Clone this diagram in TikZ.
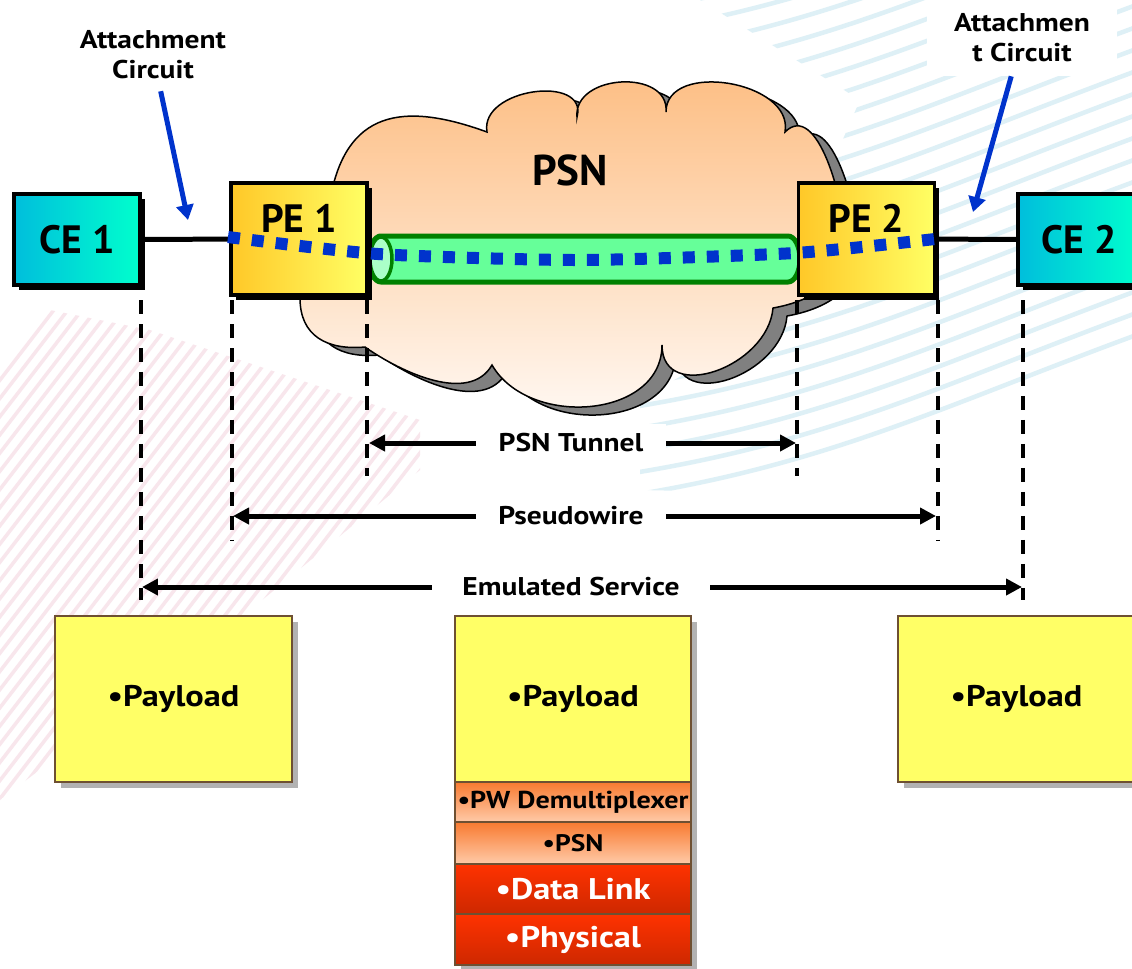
\documentclass[tikz,border=0pt]{standalone}
\usepackage{fontspec}
\setmainfont{PT Sans}
\newfontfamily\widefnt{PT Sans}[FakeStretch=1.15]
\usetikzlibrary{arrows.meta,shadows}
\definecolor{ceL}{RGB}{0,190,220}
\definecolor{ceR}{RGB}{0,255,205}
\definecolor{peL}{RGB}{255,200,40}
\definecolor{peR}{RGB}{255,255,100}
\definecolor{cloudT}{RGB}{253,188,128}
\definecolor{cloudB}{RGB}{255,250,246}
\definecolor{tubeF}{RGB}{102,255,153}
\definecolor{tubeC}{RGB}{170,255,200}
\definecolor{tubeD}{RGB}{0,128,0}
\definecolor{dotblue}{RGB}{0,51,204}
\definecolor{payY}{RGB}{255,255,102}
\definecolor{payB}{RGB}{110,80,50}
\definecolor{orT}{RGB}{248,122,48}
\definecolor{orB}{RGB}{255,202,168}
\definecolor{rdT}{RGB}{255,50,0}
\definecolor{rdB}{RGB}{205,40,0}
\definecolor{cyanstripe}{RGB}{222,240,246}
\definecolor{pinkstripe}{RGB}{248,230,236}
\newcommand{\psncloudpath}{(300,-298) -- (330,-200) to[out=80,in=160,looseness=1.35] (487,-132) to[out=100,in=75,looseness=1.25] (577,-117) to[out=95,in=85,looseness=1.25] (666,-112) to[out=90,in=80,looseness=1.1] (785,-132) to[out=45,in=90,looseness=0.9] (845,-245) to[out=-90,in=10,looseness=1] (773,-308) to[out=-95,in=-90,looseness=1.3] (662,-345) to[out=-90,in=-60,looseness=1.1] (492,-365) to[out=-120,in=-35,looseness=0.9] (365,-347) to[out=185,in=-90,looseness=1.2] (300,-298) -- cycle}
\begin{document}
\begin{tikzpicture}[x=0.02cm,y=0.02cm,
  bigfont/.style={font=\fontsize{22.5}{26}\selectfont\bfseries},
  cebox/.style={draw=black, line width=0.07cm, left color=ceL, right color=ceR,
    minimum width=2.52cm, minimum height=1.82cm, inner sep=0, bigfont,
    drop shadow={shadow xshift=0.1cm, shadow yshift=-0.1cm, fill=black, opacity=1}},
  pebox/.style={draw=black, line width=0.07cm, left color=peL, right color=peR,
    minimum width=2.72cm, minimum height=2.24cm, inner sep=0,
    drop shadow={shadow xshift=0.1cm, shadow yshift=-0.1cm, fill=black, opacity=1}},
  smallbold/.style={font=\widefnt\fontsize{14.6}{17}\selectfont\bfseries},
  bluearrow/.style={draw=dotblue, line width=0.1cm, -{Triangle[length=0.3cm,width=0.34cm]}},
  dotline/.style={draw=dotblue, line width=0.24cm, dash pattern=on 0.24cm off 0.24cm},
  link/.style={line width=0.1cm},
  vdash/.style={line width=0.065cm, dash pattern=on 0.28cm off 0.2cm},
  dimarrow/.style={line width=0.1cm, {Triangle[length=0.32cm,width=0.32cm]}-{Triangle[length=0.32cm,width=0.32cm]}},
  dimlabel/.style={smallbold, fill=white, inner xsep=0.5cm, inner ysep=0.2cm},
  payfont/.style={font=\widefnt\fontsize{17}{20}\selectfont\bfseries},
  paybox/.style={draw=payB, line width=0.04cm, fill=payY, minimum width=4.74cm, minimum height=3.32cm,
    payfont,
    drop shadow={shadow xshift=0.12cm, shadow yshift=-0.12cm, fill=black!30, opacity=1}},
  layer/.style={draw=payB, line width=0.03cm, minimum width=4.72cm, inner sep=0},
  orlayer/.style={layer, top color=orT, bottom color=orB},
  rdlayer/.style={layer, top color=rdT, bottom color=rdB, text=white, font=\widefnt\fontsize{17}{20}\selectfont\bfseries}
]
\useasboundingbox (0,0) rectangle (1132,-968);
\fill[white] (0,0) rectangle (1132,-968);

% background stripes
\begin{scope}
  \clip (700,0) -- (1132,0) -- (1132,-500) -- (640,-490) -- (640,-400) -- (760,-330) -- (860,-100) -- cycle;
  \foreach \i in {0,...,40} \draw[cyanstripe, line width=0.09cm] (600,{-500+22*\i}) to[out=8,in=200] (1150,{-330+22*\i});
\end{scope}
\begin{scope}
  \clip (0,-300) -- (150,-330) -- (420,-420) -- (420,-470) -- (250,-610) -- (0,-800) -- cycle;
  \foreach \i in {0,...,60} \draw[pinkstripe, line width=0.07cm] ({-400+14*\i},-900) -- ++(500,650);
\end{scope}
\begin{scope}
  \clip (0,-780) -- (170,-968) -- (0,-968) -- cycle;
  \foreach \i in {0,...,16} \draw[pinkstripe, line width=0.07cm] (-100,-1100) circle[radius={3+0.24*\i}];
\end{scope}

% cloud
\begin{scope}[shift={(14,-8)}]
  \path[fill=black!50, draw=black, line width=0.03cm] \psncloudpath;
\end{scope}
\path[draw=black, line width=0.03cm, top color=cloudT, bottom color=cloudB] \psncloudpath;
\node[font=\fontsize{24.5}{28}\selectfont\bfseries] (psn) at (570,-170) {PSN};

% tunnel tube
\draw[draw=tubeD, line width=0.1cm, fill=tubeF] (381,-236) -- (788,-236)
  arc[start angle=90, end angle=-90, x radius=0.24cm, y radius=0.46cm] -- (381,-282)
  arc[start angle=270, end angle=90, x radius=0.24cm, y radius=0.46cm] -- cycle;
\draw[draw=tubeD, line width=0.07cm, fill=tubeC] (381,-259) ellipse[x radius=0.22cm, y radius=0.44cm];

% boxes
\node[cebox] (ce1) at (77,-239.5) {CE 1};
\node[pebox] (pe1) at (299,-239) {};
\node[bigfont] (pe1t) at (299,-218) {PE 1};
\node[pebox] (pe2) at (866.5,-239) {};
\node[bigfont] (pe2t) at (866.5,-218) {PE 2};
\node[cebox, minimum width=2.44cm] (ce2) at (1079,-239.5) {CE 2};

\draw[link] (ce1) -- (pe1);
\draw[link] (pe2) -- (ce2);

% pseudowire dotted path
\coordinate (d1) at (228,-237);
\coordinate (d2) at (378,-254);
\coordinate (d3) at (580,-260);
\coordinate (d4) at (795,-253);
\coordinate (d5) at (935,-239);
\draw[dotline] plot[smooth, tension=0.4] coordinates {(d1) (d2) (d3) (d4) (d5)};

% attachment circuit labels
\node[smallbold, align=center] (ac1) at (153,-55) {Attachment\\Circuit};
\coordinate (ac1tip) at (188,-220);
\draw[bluearrow, shorten <=0.12cm] (ac1) -- (ac1tip);
\node[smallbold, align=center, fill=white, minimum width=3.82cm, minimum height=1.52cm] (ac2) at (1022,-38) {Attachmen\\t Circuit};
\coordinate (ac2tip) at (973,-212);
\draw[bluearrow] (ac2) -- (ac2tip);

% dashed verticals
\coordinate (v1t) at (141,-300);  \coordinate (v1b) at (141,-600);
\coordinate (v2t) at (232,-300);  \coordinate (v2b) at (232,-540);
\coordinate (v3t) at (367,-300);  \coordinate (v3b) at (367,-476);
\coordinate (v4t) at (797,-300);  \coordinate (v4b) at (797,-476);
\coordinate (v5t) at (938,-300);  \coordinate (v5b) at (938,-540);
\coordinate (v6t) at (1023,-300); \coordinate (v6b) at (1023,-600);
\foreach \k in {1,...,6} \draw[vdash] (v\k t) -- (v\k b);

% dimension arrows
\coordinate (tunL) at (369,-443); \coordinate (tunR) at (796,-443);
\coordinate (pwL) at (233,-516);  \coordinate (pwR) at (936,-516);
\coordinate (esL) at (142,-587);  \coordinate (esR) at (1022,-587);
\draw[dimarrow] (tunL) -- (tunR);
\node[dimlabel, inner xsep=0.45cm] (tunT) at (571,-443) {PSN Tunnel};
\draw[dimarrow] (pwL) -- (pwR);
\node[dimlabel, inner xsep=0.45cm] (pwT) at (571,-516) {Pseudowire};
\draw[dimarrow] (esL) -- (esR);
\node[dimlabel, inner xsep=0.6cm] (esT) at (571,-587) {Emulated Service};

% payload boxes
\node[paybox] (pay1) at (173.5,-699) {•Payload};
\node[paybox] (pay3) at (1016.5,-699) {•Payload};

% protocol stack
\fill[black!30] (461,-622) rectangle (697,-971);
\node[layer, fill=payY, minimum height=3.32cm, payfont] (spay) at (573,-699) {•Payload};
\node[orlayer, minimum height=0.8cm, font=\widefnt\fontsize{13.9}{16}\selectfont\bfseries] (spw) at (573,-802) {•PW Demultiplexer};
\node[orlayer, minimum height=0.84cm, font=\widefnt\fontsize{13.6}{16}\selectfont\bfseries] (spsn) at (573,-843) {•PSN};
\node[rdlayer, minimum height=1.0cm] (sdl) at (573,-889) {•Data Link};
\node[rdlayer, minimum height=1.02cm] (sph) at (573,-939.5) {•Physical};
\end{tikzpicture}
\end{document}
